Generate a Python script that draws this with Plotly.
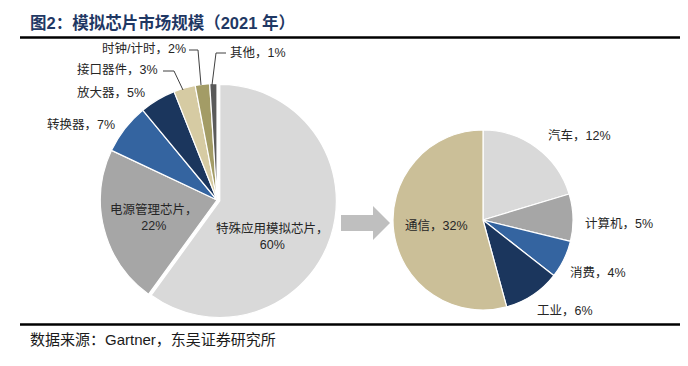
import plotly.graph_objects as go

# ---------------- data ----------------
main_names = ["特殊应用模拟芯片", "电源管理芯片", "转换器", "放大器", "接口器件", "时钟/计时", "其他"]
main_values = [60, 22, 7, 5, 3, 2, 1]
main_colors = ["#d9d9d9", "#a6a6a6", "#3464a0", "#1b365d", "#d6cba3", "#a39c66", "#5a5a5a"]

sub_names = ["汽车", "计算机", "消费", "工业", "通信"]
sub_values = [12, 5, 4, 6, 32]
sub_colors = ["#d9d9d9", "#a6a6a6", "#3464a0", "#1b365d", "#cbbf98"]

title_text = "图2：模拟芯片市场规模（2021 年）"
source_text = "数据来源：Gartner，东吴证券研究所"

W, H = 688, 366


def px(x):
    return x / W


def py(y):
    return 1 - y / H


FONT = "Liberation Sans, Noto Sans CJK SC, sans-serif"
TXT = "#262626"

fig = go.Figure()

fig.add_trace(go.Pie(
    labels=main_names, values=main_values, sort=False, direction="clockwise", rotation=0,
    marker=dict(colors=main_colors, line=dict(color="white", width=1.2)),
    pull=[0.025, 0, 0, 0, 0, 0, 0], textinfo="none", hoverinfo="label+percent",
    domain=dict(x=[px(89.5), px(328.5)], y=[py(311.5), py(72.5)]), showlegend=False,
))

fig.add_trace(go.Pie(
    labels=sub_names, values=sub_values, sort=False, direction="clockwise", rotation=0,
    marker=dict(colors=sub_colors, line=dict(color="white", width=1.2)),
    textinfo="none", hoverinfo="label+value",
    domain=dict(x=[px(385), px(565)], y=[py(302), py(122)]), showlegend=False,
))

# label placements (pixels): x, y, xanchor, two-line?
main_label_pos = [
    (264, 228, "center", True),
    (146, 209, "center", True),
    (109, 116, "right", False),
    (139, 84, "right", False),
    (152, 62, "right", False),
    (180, 40, "right", False),
    (220, 45, "left", False),
]
sub_label_pos = [
    (571, 127, "center", False),
    (611, 215, "center", False),
    (590, 265, "center", False),
    (557, 303, "center", False),
    (428, 218, "center", False),
]

annotations = []
for names, vals, poss in ((main_names, main_values, main_label_pos), (sub_names, sub_values, sub_label_pos)):
    for n, v, (x, y, xa, two) in zip(names, vals, poss):
        t = f"{n}，<br>{v}%" if two else f"{n}，{v}%"
        annotations.append(dict(x=px(x), y=py(y), xref="paper", yref="paper", text=t,
                                showarrow=False, xanchor=xa, yanchor="middle",
                                font=dict(family=FONT, size=12.5, color=TXT)))

annotations.append(dict(x=px(20), y=py(14), xref="paper", yref="paper", text=f"<b>{title_text}</b>",
                        showarrow=False, xanchor="left", yanchor="middle",
                        font=dict(family=FONT, size=16.5, color="#1f3864")))
annotations.append(dict(x=px(20), y=py(331), xref="paper", yref="paper", text=source_text,
                        showarrow=False, xanchor="left", yanchor="middle",
                        font=dict(family=FONT, size=15, color="#1a1a1a")))

shapes = []
# rules
for yy in (29.5, 316.5):
    shapes.append(dict(type="line", xref="paper", yref="paper", x0=px(12), x1=px(673), y0=py(yy), y1=py(yy),
                       line=dict(color="black", width=2.5)))

# leader lines
leaders = [
    [(181, 42), (190, 42), (193, 77)],
    [(155, 63), (166, 63), (175, 82)],
    [(218, 45), (208, 45), (204, 77)],
]
for pts in leaders:
    path = "M " + " L ".join(f"{px(a)},{py(b)}" for a, b in pts)
    shapes.append(dict(type="path", xref="paper", yref="paper", path=path,
                       line=dict(color="#404040", width=1)))

# arrow
arrow_pts = [(333, 207), (365, 207), (365, 198), (382, 215), (365, 232), (365, 223), (333, 223)]
apath = "M " + " L ".join(f"{px(a)},{py(b)}" for a, b in arrow_pts) + " Z"
shapes.append(dict(type="path", xref="paper", yref="paper", path=apath,
                   fillcolor="#bfbfbf", line=dict(width=0)))

fig.update_layout(
    width=W, height=H, margin=dict(l=0, r=0, t=0, b=0),
    paper_bgcolor="white", plot_bgcolor="white",
    annotations=annotations, shapes=shapes,
)

fig.write_html("out.html", config={"displayModeBar": False})
